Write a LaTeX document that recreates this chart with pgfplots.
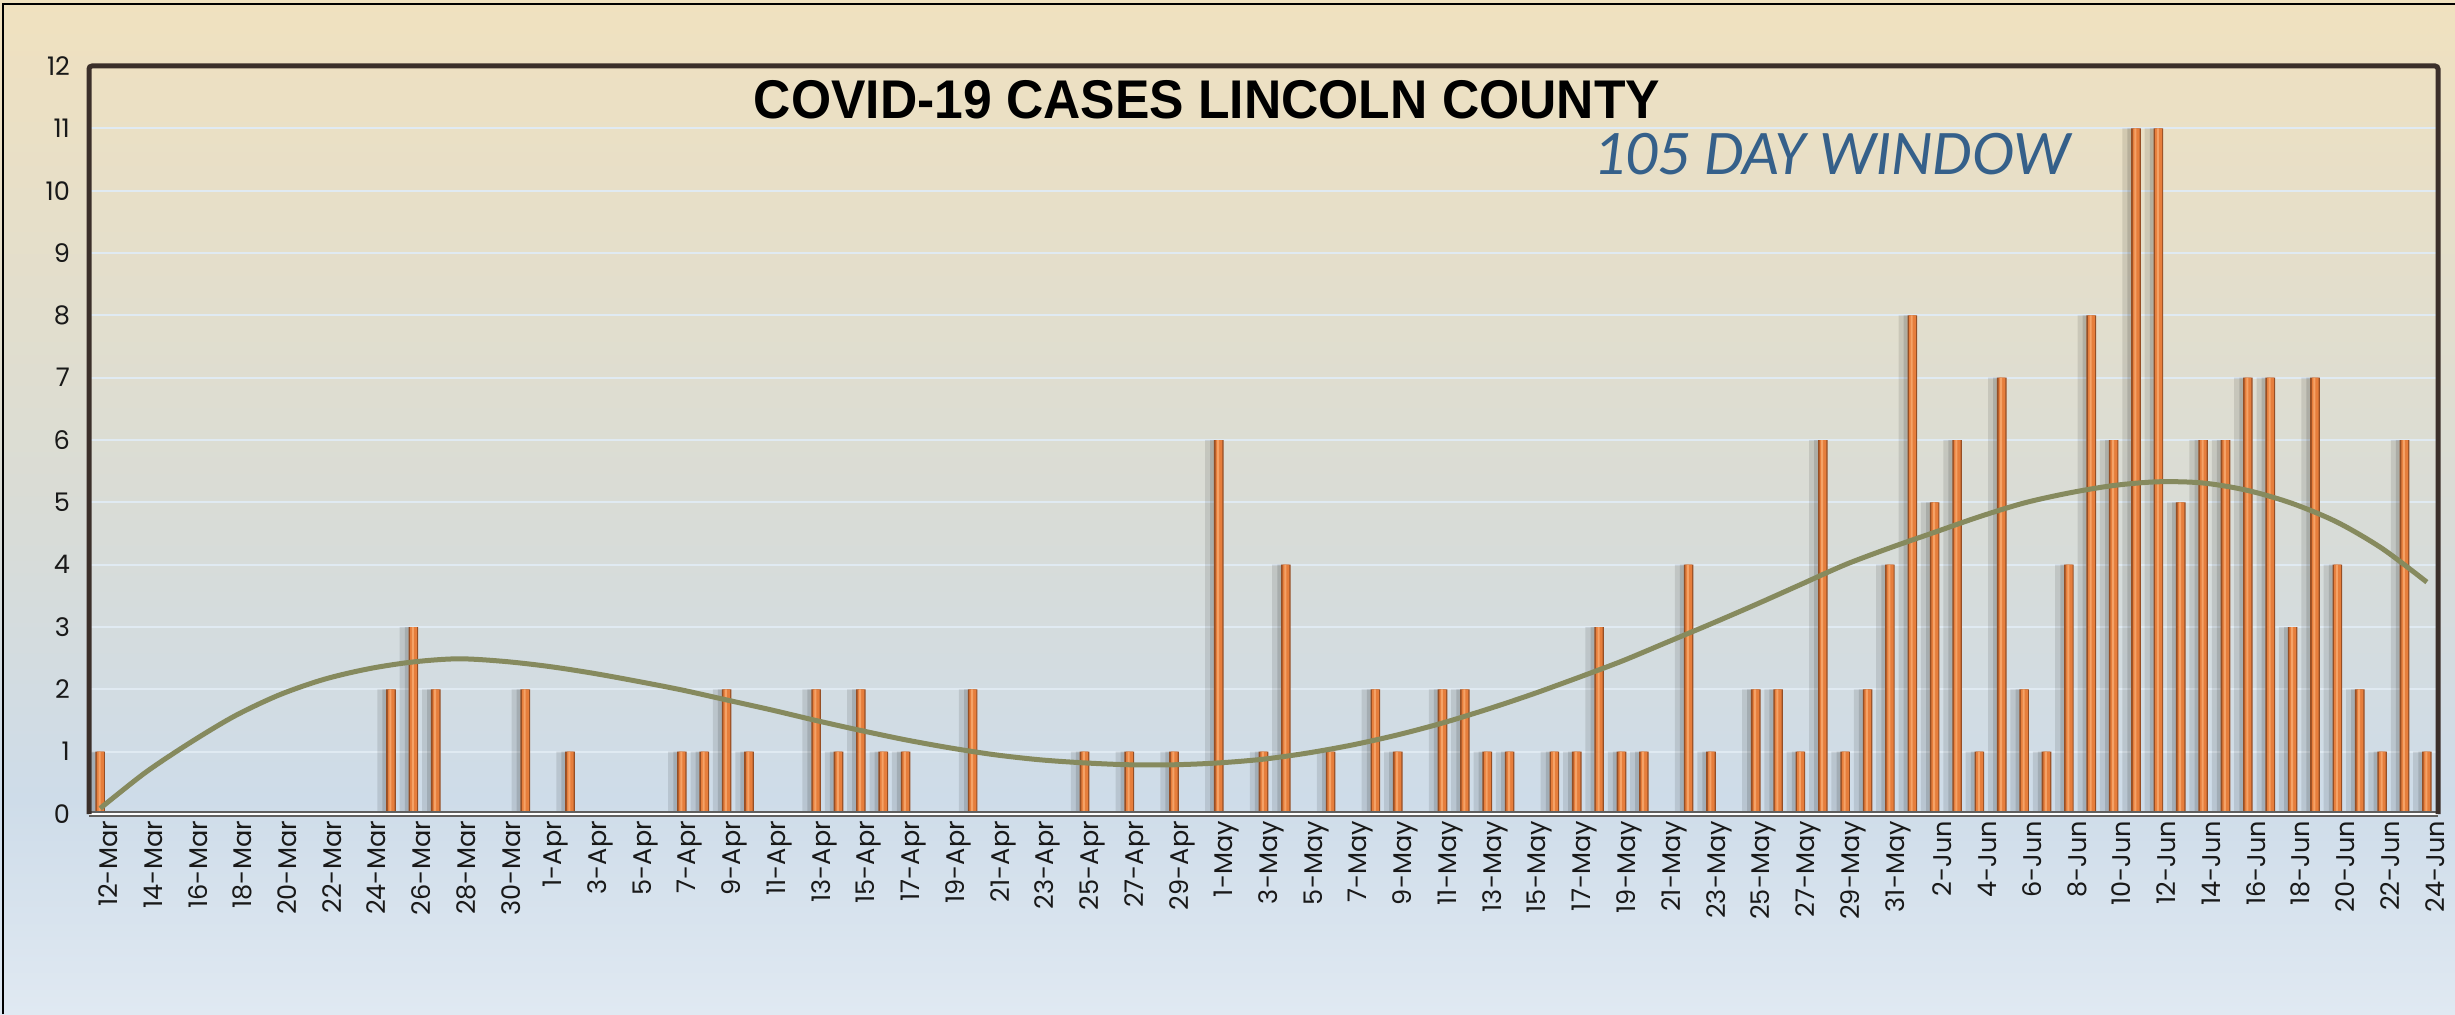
\documentclass[border=0pt]{standalone}
\usepackage{fontspec}
\setmainfont{Poppins}
\newfontfamily\titlefont{Liberation Sans}
\newfontfamily\subfont{Carlito}
\usepackage{pgfplots}
\usepackage{pgfplotstable}
\pgfplotsset{compat=1.18}
\definecolor{bgtop}{RGB}{240,225,191}
\definecolor{bgmid}{RGB}{217,220,214}
\definecolor{bgblue}{RGB}{206,220,233}
\definecolor{bgbot}{RGB}{224,233,242}
\definecolor{gridc}{RGB}{224,234,242}
\definecolor{framec}{RGB}{59,47,42}
\definecolor{barbase}{RGB}{150,78,36}
\definecolor{barmid}{RGB}{230,126,60}
\definecolor{barhi}{RGB}{245,162,102}
\definecolor{trendc}{RGB}{134,138,94}
\definecolor{subc}{RGB}{53,96,138}
\definecolor{tickc}{RGB}{25,25,25}
\pgfplotstableread{
x y
0 1
13 2
14 3
15 2
19 2
21 1
26 1
27 1
28 2
29 1
32 2
33 1
34 2
35 1
36 1
39 2
44 1
46 1
48 1
50 6
52 1
53 4
55 1
57 2
58 1
60 2
61 2
62 1
63 1
65 1
66 1
67 3
68 1
69 1
71 4
72 1
74 2
75 2
76 1
77 6
78 1
79 2
80 4
81 8
82 5
83 6
84 1
85 7
86 2
87 1
88 4
89 8
90 6
91 11
92 11
93 5
94 6
95 6
96 7
97 7
98 3
99 7
100 4
101 2
102 1
103 6
104 1
}\cases
\pgfplotstableread{
x y
0 0.09
2 0.66
4 1.14
6 1.57
8 1.91
10 2.16
12 2.33
14 2.44
16 2.49
18 2.45
20 2.37
22 2.26
24 2.13
26 1.99
28 1.83
30 1.67
32 1.50
34 1.34
36 1.19
38 1.06
40 0.95
42 0.87
44 0.82
46 0.79
48 0.79
50 0.82
52 0.88
54 0.98
56 1.11
58 1.27
60 1.46
62 1.68
64 1.92
66 2.18
68 2.45
70 2.75
72 3.05
74 3.36
76 3.68
78 4.00
80 4.27
82 4.52
84 4.77
86 4.99
88 5.15
90 5.27
92 5.33
94 5.31
96 5.19
98 4.98
100 4.68
102 4.26
104 3.72
}\trend
\begin{document}
\begin{tikzpicture}
\useasboundingbox (0,0) rectangle (1227.5pt,507pt);
\shade[bottom color=bgbot, top color=bgblue] (0,0) rectangle (1227.5pt,107.5pt);
\shade[bottom color=bgblue, top color=bgmid] (0,107pt) rectangle (1227.5pt,254pt);
\shade[bottom color=bgmid, top color=bgtop] (0,253.5pt) rectangle (1227.5pt,507pt);
\begin{axis}[
  name=ax,
  at={(44.5pt,100pt)}, anchor=south west,
  scale only axis, width=1174.5pt, height=374pt,
  xmin=-0.5, xmax=104.5, ymin=0, ymax=12,
  axis line style={draw=none},
  ytick={0,1,...,12},
  xtick={0,2,...,104},
  xticklabels={12-Mar,14-Mar,16-Mar,18-Mar,20-Mar,22-Mar,24-Mar,26-Mar,28-Mar,30-Mar,
    1-Apr,3-Apr,5-Apr,7-Apr,9-Apr,11-Apr,13-Apr,15-Apr,17-Apr,19-Apr,21-Apr,23-Apr,25-Apr,27-Apr,29-Apr,
    1-May,3-May,5-May,7-May,9-May,11-May,13-May,15-May,17-May,19-May,21-May,23-May,25-May,27-May,29-May,31-May,
    2-Jun,4-Jun,6-Jun,8-Jun,10-Jun,12-Jun,14-Jun,16-Jun,18-Jun,20-Jun,22-Jun,24-Jun},
  major tick length=0pt,
  ymajorgrids,
  grid style={gridc, line width=1pt},
  tick label style={font=\fontsize{12.8}{14}\selectfont, text=tickc},
  xticklabel style={rotate=90, anchor=east, yshift=-4pt},
  yticklabel style={xshift=-6pt},
  /pgf/number format/assume math mode=true,
]
\addplot[ybar, bar width=6.5pt, bar shift=-3.6pt, draw=none, fill=black, fill opacity=0.10, forget plot] table[x=x,y=y] {\cases};
\addplot[ybar, bar width=3pt, bar shift=-2.8pt, draw=none, fill=black, fill opacity=0.12, forget plot] table[x=x,y=y] {\cases};
\addplot[ybar, bar width=4.8pt, bar shift=0pt, draw=none, fill=barbase, forget plot] table[x=x,y=y] {\cases};
\addplot[ybar, bar width=3.4pt, bar shift=0.1pt, draw=none, fill=barmid, forget plot] table[x=x,y=y] {\cases};
\addplot[ybar, bar width=1.0pt, bar shift=-0.3pt, draw=none, fill=barhi, forget plot] table[x=x,y=y] {\cases};
\addplot[trendc, line width=2.5pt, smooth, no marks] table[x=x,y=y] {\trend};
\end{axis}
\draw[gray!75!black, line width=3pt] (ax.south west) -- (ax.south east);
\draw[white, line width=1.1pt] (ax.south west) -- (ax.south east);
\draw[framec, line width=2.5pt, rounded corners=1.5pt] (ax.south west) -- (ax.north west) -- (ax.north east) -- (ax.south east);
\draw[black, line width=1.2pt] (1.5pt,0) -- (1.5pt,505pt) -- (1227.5pt,505pt);
\node[anchor=base, inner sep=0pt] at (603.5pt,447.5pt) {\scalebox{0.947}[1]{\titlefont\bfseries\fontsize{27.25}{30}\selectfont COVID-19 CASES LINCOLN COUNTY}};
\node[anchor=base west, inner sep=0pt, text=subc] at (796.5pt,419.5pt) {\subfont\itshape\fontsize{31.8}{34}\selectfont 105 DAY WINDOW};
\end{tikzpicture}
\end{document}
